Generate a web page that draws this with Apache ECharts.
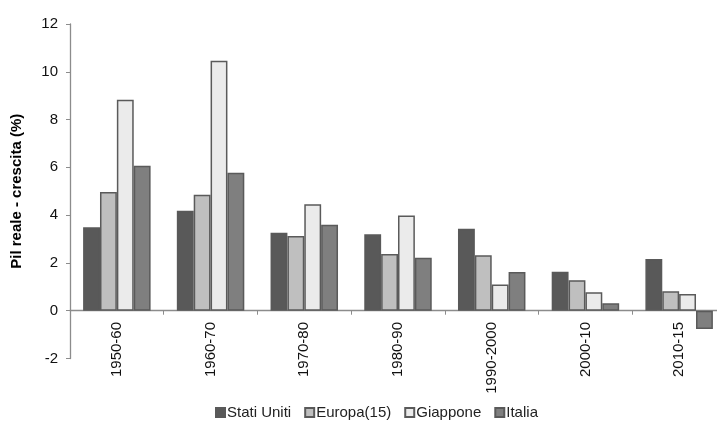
<!DOCTYPE html>
<html>
<head>
<meta charset="utf-8">
<script src="https://cdn.jsdelivr.net/npm/echarts@6/dist/echarts.min.js"></script>
<style>
  html, body { margin: 0; padding: 0; background: #fff; }
  #chart { width: 717px; height: 422px; }
</style>
</head>
<body>
<div id="chart"></div>
<script>
// Real GDP growth by decade (%)
const categories = ['1950-60', '1960-70', '1970-80', '1980-90', '1990-2000', '2000-10', '2010-15'];
const statiUniti = [3.49, 4.18, 3.26, 3.20, 3.43, 1.63, 2.16];
const europa15   = [4.97, 4.85, 3.13, 2.37, 2.32, 1.28, 0.81];
const giappone   = [8.83, 10.46, 4.46, 3.99, 1.10, 0.77, 0.70];
const italia     = [6.07, 5.77, 3.60, 2.22, 1.62, 0.31, -0.77];
const yTicks = { min: -2, max: 12, step: 2 };

const FONT = 'Liberation Sans, Arial, sans-serif';
const edge = '#5a5a5a';

function barSeries(name, data, fill, border) {
  return {
    name: name,
    type: 'bar',
    data: data,
    barGap: '0%',
    barCategoryGap: '28%',
    itemStyle: { color: fill, borderColor: border, borderWidth: 1.5 },
    emphasis: { disabled: true }
  };
}

const chart = echarts.init(document.getElementById('chart'), null, { renderer: 'canvas' });
chart.setOption({
  animation: false,
  textStyle: { fontFamily: FONT },
  grid: {
    left: 70, top: 24, bottom: 63.5, right: -9,
    containLabel: false,
    outerBoundsMode: 'none'
  },
  legend: {
    left: 210,
    top: 400,
    itemWidth: 9,
    itemHeight: 9,
    itemGap: 13,
    icon: 'rect',
    textStyle: { fontFamily: FONT, fontSize: 15, color: '#222', padding: [0, 0, 0, -3] },
    data: ['Stati Uniti', 'Europa(15)', 'Giappone', 'Italia']
  },
  xAxis: {
    type: 'category',
    data: categories,
    axisLine: { onZero: true, lineStyle: { color: '#8c8c8c', width: 1.3 } },
    axisTick: { show: true, length: 4, inside: false, lineStyle: { color: '#8c8c8c' } },
    axisLabel: {
      rotate: 90,
      fontFamily: FONT,
      fontSize: 15,
      color: '#111',
      // labels sit just under the zero line rather than at the grid bottom
      margin: -36.5
    },
    splitLine: { show: false }
  },
  yAxis: {
    type: 'value',
    min: yTicks.min,
    max: yTicks.max,
    interval: yTicks.step,
    name: 'Pil reale - crescita (%)',
    nameLocation: 'middle',
    nameGap: 46,
    nameRotate: 90,
    nameTextStyle: { fontFamily: FONT, fontSize: 15, fontWeight: 'bold', color: '#000' },
    axisLine: { show: true, lineStyle: { color: '#8c8c8c', width: 1.3 } },
    axisTick: { show: true, length: 4, lineStyle: { color: '#8c8c8c' } },
    axisLabel: { fontFamily: FONT, fontSize: 15, color: '#111', margin: 12 },
    splitLine: { show: false }
  },
  series: [
    barSeries('Stati Uniti', statiUniti, '#595959', '#595959'),
    barSeries('Europa(15)', europa15, '#bfbfbf', edge),
    barSeries('Giappone', giappone, '#ebebeb', edge),
    barSeries('Italia', italia, '#7f7f7f', edge)
  ]
});
</script>
</body>
</html>
